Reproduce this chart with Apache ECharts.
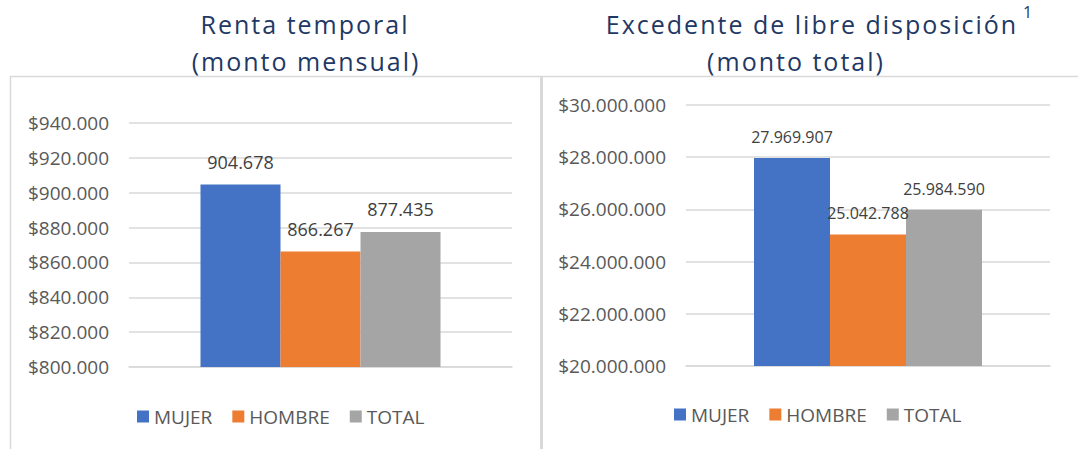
<!DOCTYPE html>
<html>
<head>
<meta charset="utf-8">
<script src="https://cdn.jsdelivr.net/npm/echarts@6/dist/echarts.min.js"></script>
<style>
  html, body { margin: 0; padding: 0; background: #fff; }
  #chart { width: 1078px; height: 449px; }
  /* the two panel titles are letter-spaced in the original */
  #chart text[fill="#1f3864" i] { letter-spacing: 2px; }
</style>
</head>
<body>
<div id="chart"></div>
<script>
// data
const seriesNames = ['MUJER', 'HOMBRE', 'TOTAL'];
const seriesColors = ['#4472C4', '#ED7D31', '#A5A5A5'];
const rentaValues = [904678, 866267, 877435];
const excedenteValues = [27969907, 25042788, 25984590];
const rentaAxis = { min: 800000, max: 940000, interval: 20000 };
const excedenteAxis = { min: 20000000, max: 30000000, interval: 2000000 };

const FONT = 'Open Sans';
const GRID_LINE = '#d9d9d9';
const TITLE = '#1f3864';

// 1234567 -> 1.234.567
function dots(n) {
  return String(Math.round(n)).replace(/\B(?=(\d{3})+(?!\d))/g, '.');
}

function yAxisFor(idx, range) {
  return {
    type: 'value',
    gridIndex: idx,
    min: range.min,
    max: range.max,
    interval: range.interval,
    axisLine: { show: false },
    axisTick: { show: false },
    axisLabel: {
      margin: 20,
      fontFamily: FONT,
      fontSize: 19,
      color: '#595959',
      formatter: v => '$' + dots(v)
    },
    splitLine: { lineStyle: { color: GRID_LINE, width: 1.5 } }
  };
}

function xAxisFor(idx) {
  return {
    type: 'category',
    gridIndex: idx,
    data: [''],
    axisLine: { lineStyle: { color: GRID_LINE, width: 1.5 } },
    axisTick: { show: false },
    axisLabel: { show: false }
  };
}

function barsFor(idx, values, width, labelSize, dist) {
  return values.map((v, i) => ({
    name: seriesNames[i],
    type: 'bar',
    xAxisIndex: idx,
    yAxisIndex: idx,
    data: [v],
    barWidth: width,
    barGap: '0%',
    itemStyle: { color: seriesColors[i] },
    label: {
      show: true,
      position: 'top',
      distance: dist,
      fontFamily: FONT,
      fontSize: labelSize,
      color: '#404040',
      formatter: p => dots(p.value)
    }
  }));
}

function legendAt(left, top) {
  return {
    left: left,
    top: top,
    padding: 0,
    itemWidth: 12,
    itemHeight: 12,
    itemGap: 20,
    icon: 'rect',
    selectedMode: false,
    data: seriesNames,
    textStyle: { fontFamily: FONT, fontSize: 19, color: '#595959' }
  };
}

function titleText(str, x, y) {
  return {
    type: 'text', x: x, y: y,
    style: { text: str, align: 'center', verticalAlign: 'middle',
      fontFamily: FONT, fontSize: 25, fill: TITLE }
  };
}

const chart = echarts.init(document.getElementById('chart'), null, { renderer: 'svg' });

chart.setOption({
  animation: false,
  grid: [
    { left: 129, right: 566, top: 123, bottom: 82 },
    { left: 686, right: 28, top: 105, bottom: 83 }
  ],
  xAxis: [xAxisFor(0), xAxisFor(1)],
  yAxis: [yAxisFor(0, rentaAxis), yAxisFor(1, excedenteAxis)],
  legend: [legendAt(137, 407), legendAt(674, 405)],
  series: [
    ...barsFor(0, rentaValues, 80, 18, 14),
    ...barsFor(1, excedenteValues, 76, 16, 13)
  ],
  graphic: [
    // panel borders
    { type: 'line', shape: { x1: 10, y1: 76.5, x2: 1078, y2: 76.5 },
      style: { stroke: GRID_LINE, lineWidth: 1.5 } },
    { type: 'line', shape: { x1: 10.5, y1: 76, x2: 10.5, y2: 449 },
      style: { stroke: GRID_LINE, lineWidth: 1.5 } },
    { type: 'rect', shape: { x: 540, y: 76, width: 3, height: 373 },
      style: { fill: GRID_LINE } },
    // titles
    titleText('Renta temporal', 305, 24),
    titleText('(monto mensual)', 306, 61),
    titleText('Excedente de libre disposición', 812, 24),
    { type: 'text', x: 1023, y: 12,
      style: { text: '1', align: 'left', verticalAlign: 'middle',
        fontFamily: FONT, fontSize: 16, fill: '#1F3864' } },
    titleText('(monto total)', 796, 61)
  ]
});
</script>
</body>
</html>
